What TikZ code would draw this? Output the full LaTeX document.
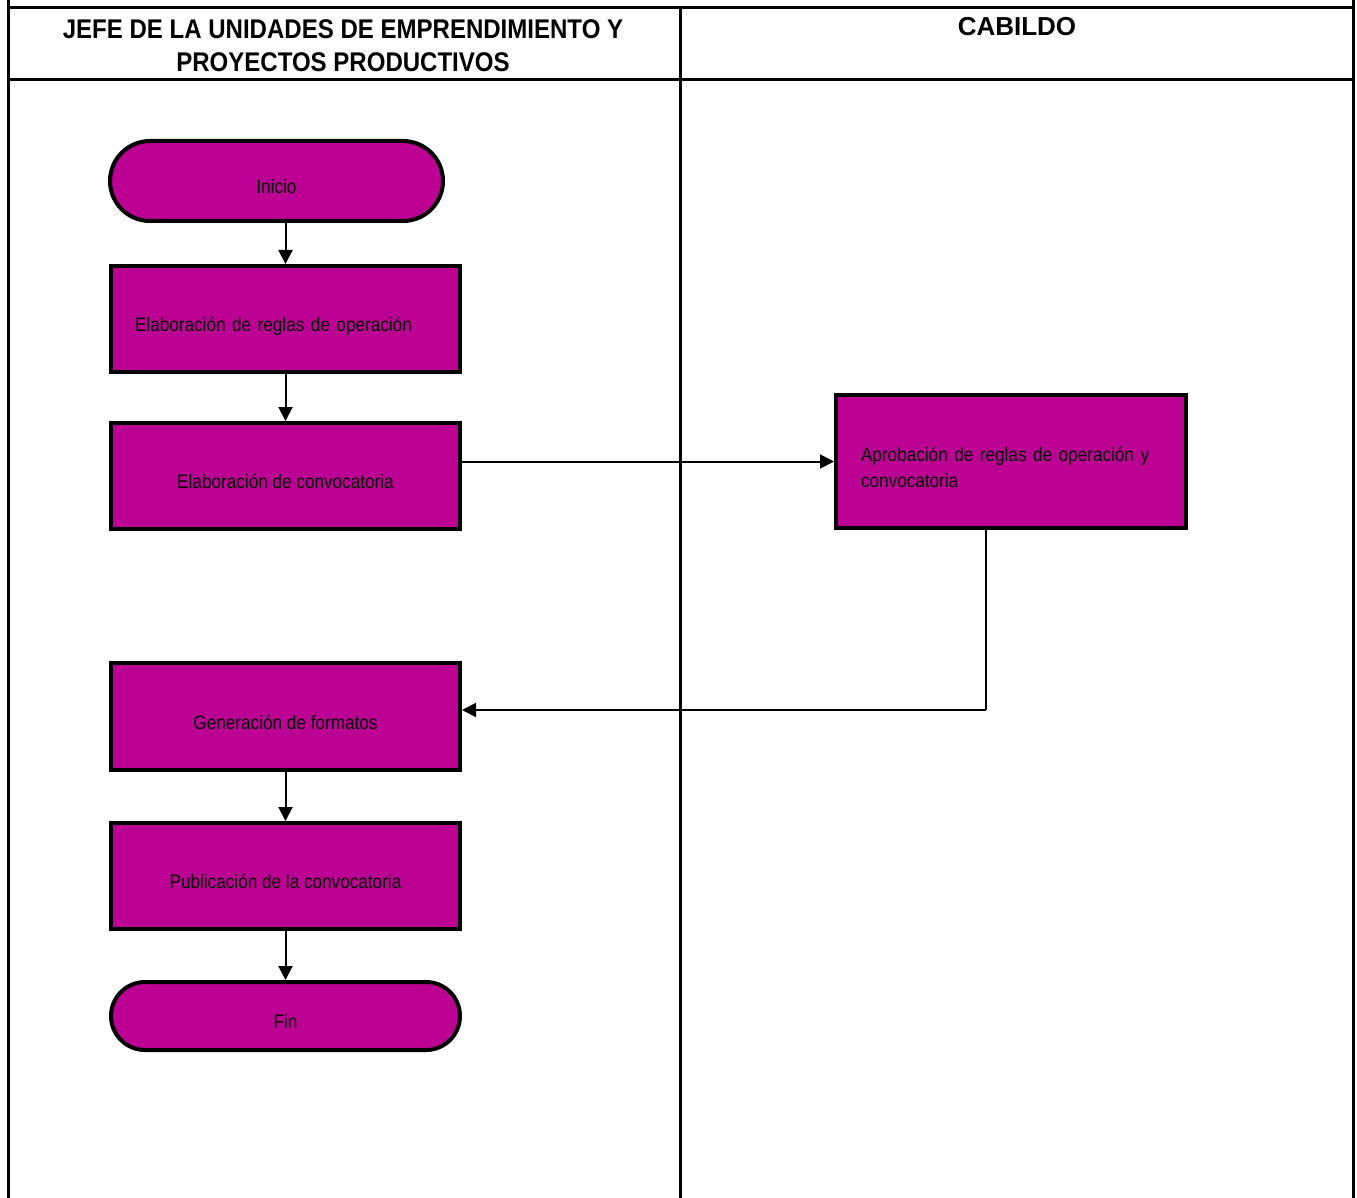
\documentclass[tikz,border=0pt]{standalone}
\usepackage{fontspec}
\setmainfont{Liberation Sans}
\newfontfamily\narrow[FakeStretch=0.88]{Liberation Sans}
\newfontfamily\hdrfont[FakeStretch=0.89]{Liberation Sans}
\usetikzlibrary{arrows.meta,shapes.misc}
\definecolor{mag}{RGB}{188,0,148}
\tikzset{
  lane/.style={line width=3pt},
  box/.style={draw=black, line width=4pt, fill=mag, rectangle, inner sep=0pt,
    font=\narrow\fontsize{19.5}{25.5}\selectfont, text=black,
    text height=26pt, text depth=0.5pt},
  term/.style={draw=black, line width=4pt, fill=mag, rounded rectangle, inner sep=0pt,
    font=\narrow\fontsize{19.5}{25.5}\selectfont, text=black,
    text height=26pt, text depth=0.5pt},
  conn/.style={line width=2pt, -{Triangle[length=14pt,width=14pt]}},
  hdr/.style={font=\hdrfont\bfseries\fontsize{27}{33}\selectfont, align=center},
}
\begin{document}
\begin{tikzpicture}[x=1pt,y=-1pt]
\useasboundingbox (0,0) rectangle (1357,1198);
% lanes
\draw[lane] (8,0) -- (8,1198);
\draw[lane] (1353,0) -- (1353,1198);
\draw[lane] (680,8) -- (680,1198);
\draw[lane] (8,8) -- (1353,8);
\draw[lane] (8,80) -- (1353,80);
\node[hdr] (h1) at (343,45.5) {JEFE DE LA UNIDADES DE EMPRENDIMIENTO Y\\PROYECTOS PRODUCTIVOS};
\node[font=\bfseries\fontsize{26}{30}\selectfont] (h2) at (1017,27) {CABILDO};
% nodes
\node[term, minimum width=333pt, minimum height=80pt] (ini) at (276.5,181) {Inicio};
\node[box, minimum width=349pt, minimum height=106pt, text width=301pt, align=left] (b1) at (285.5,319) {Elaboración de reglas de operación};
\node[box, minimum width=349pt, minimum height=106pt] (b2) at (285.5,476) {Elaboración de convocatoria};
\node[box, minimum width=350pt, minimum height=133pt, text width=300pt, align=left,
  text height=13pt, text depth=12.5pt] (b3) at (1011,461.5) {Aprobación de reglas de operación y\\convocatoria};
\node[box, minimum width=349pt, minimum height=107pt] (b4) at (285.5,716.5) {Generación de formatos};
\node[box, minimum width=349pt, minimum height=106pt] (b5) at (285.5,876) {Publicación de la convocatoria};
\node[term, minimum width=349pt, minimum height=68pt] (fin) at (285.5,1016) {Fin};
\coordinate (c1) at (986,710);
% connectors
\draw[conn] (b1.north |- ini.south) -- (b1.north);
\draw[conn] (b1) -- (b2);
\draw[conn] (b3.west -| b2.east) -- (b3.west);
\draw[line width=2pt] (b3.south -| c1) -- (c1);
\draw[conn] (c1) -- (c1 -| b4.east);
\draw[conn] (b4) -- (b5);
\draw[conn] (b5) -- (fin);
\end{tikzpicture}
\end{document}
